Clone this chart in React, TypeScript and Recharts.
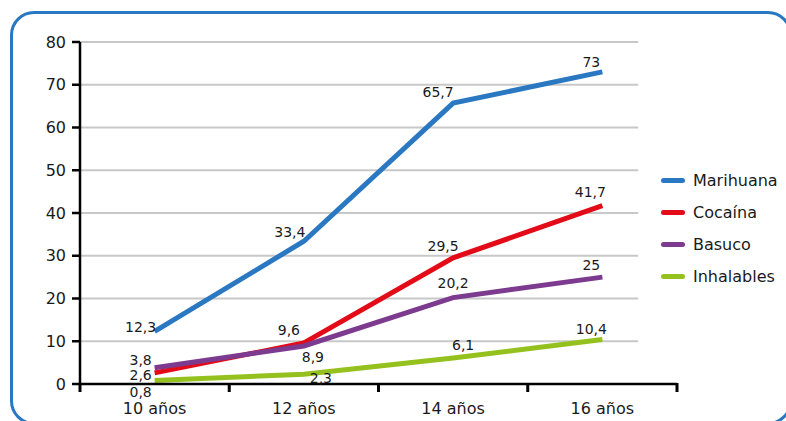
import React from "react"
import { LineChart, Line, XAxis, YAxis, CartesianGrid } from "recharts"

const categories = ["10 años", "12 años", "14 años", "16 años"]
const marihuana = [12.3, 33.4, 65.7, 73]
const cocaina = [2.6, 9.6, 29.5, 41.7]
const basuco = [3.8, 8.9, 20.2, 25]
const inhalables = [0.8, 2.3, 6.1, 10.4]
const yTicks = [0, 10, 20, 30, 40, 50, 60, 70, 80]

const FONT = "'DejaVu Sans', sans-serif"

// label offsets (text centre relative to the point), one per category
const series = [
  { key: "marihuana", name: "Marihuana", color: "#2a78c2", values: marihuana,
    offsets: [[-14, -4], [-14, -9], [-15, -11], [-11, -10]] },
  { key: "cocaina", name: "Cocaína", color: "#e30b17", values: cocaina,
    offsets: [[-14, 2], [-15, -13], [-10, -12], [-12, -14]] },
  { key: "basuco", name: "Basuco", color: "#7d3b8f", values: basuco,
    offsets: [[-14, -8], [9, 11], [0, -15], [-11, -12]] },
  { key: "inhalables", name: "Inhalables", color: "#95c11f", values: inhalables,
    offsets: [[-14, 11], [17, 4], [10, -13], [-11, -11]] },
]

// categories sit on odd positions, band edges on even ones
const rows = categories.map((c, i) => {
  const row: any = { x: 2 * i + 1, name: c }
  series.forEach(s => { row[s.key] = s.values[i] })
  return row
})

const fmt = (v: number) => String(v).replace(".", ",")

const XTick = (props: any) => {
  const { x, y, payload } = props
  const v = payload.value as number
  if (v % 2 === 0) {
    return <line x1={x} x2={x} y1={y - 1} y2={y + 8} stroke="#000" strokeWidth={3} />
  }
  return (
    <text x={x} y={y + 24} textAnchor="middle" dominantBaseline="central"
      fontFamily={FONT} fontSize={16} fill="#1a1a1a">
      {categories[(v - 1) / 2]}
    </text>
  )
}

const makeLabel = (offsets: number[][]) => (props: any) => {
  const { x, y, value, index } = props
  const [dx, dy] = offsets[index] || [0, -12]
  return (
    <text x={x + dx} y={y + dy} textAnchor="middle" dominantBaseline="central"
      fontFamily={FONT} fontSize={14} fill="#1a1a1a">
      {fmt(value)}
    </text>
  )
}

const GridLine = (p: any) => (
  <line key={`g-${p.y1}`} x1={p.x1} x2={p.x1 + (p.x2 - p.x1) * 0.935} y1={p.y1} y2={p.y2}
    stroke="#c8c8c8" strokeWidth={2} />
)

const LegendBox = () => (
  <div style={{ position: "absolute", left: 661, top: 164, fontFamily: FONT, fontSize: 16, color: "#1a1a1a" }}>
    {series.map(s => (
      <div key={s.key} style={{ display: "flex", alignItems: "center", height: 32 }}>
        <div style={{ width: 24, height: 5, borderRadius: 3, background: s.color, marginRight: 8 }} />
        <span>{s.name}</span>
      </div>
    ))}
  </div>
)

export default function App() {
  return (
    <div style={{ position: "absolute", left: 0, top: 0, width: 786, height: 421, overflow: "hidden", background: "#fff" }}>
      {/* rounded frame, its bottom edge runs just past the page */}
      <div style={{
        position: "absolute", left: 10, top: 11, width: 782, height: 414,
        border: "3px solid #2a78c2", borderRadius: 24, boxSizing: "border-box",
      }} />
      <div style={{ position: "absolute", left: 0, top: 0 }}>
        <LineChart width={786} height={421} data={rows}
          margin={{ top: 42, right: 109, bottom: 7, left: 0 }}>
          <CartesianGrid vertical={false} horizontal={GridLine as any} />
          <XAxis dataKey="x" type="number" domain={[0, 8]} ticks={[0, 1, 2, 3, 4, 5, 6, 7, 8]}
            interval={0} height={30} tickLine={false} tickSize={0} tickMargin={0}
            axisLine={{ stroke: "#000", strokeWidth: 2.5 }} tick={<XTick />} />
          <YAxis domain={[0, 80]} ticks={yTicks} interval={0} width={80}
            tickSize={8} tickMargin={6}
            axisLine={{ stroke: "#000", strokeWidth: 2.5 }}
            tickLine={{ stroke: "#000", strokeWidth: 2.5 }}
            tick={{ fontFamily: FONT, fontSize: 16, fill: "#1a1a1a" }} />
          {series.map(s => (
            <Line key={s.key} dataKey={s.key} name={s.name} type="linear" stroke={s.color}
              strokeWidth={5} dot={false} isAnimationActive={false}
              label={makeLabel(s.offsets)} />
          ))}
        </LineChart>
      </div>
      <LegendBox />
    </div>
  )
}
